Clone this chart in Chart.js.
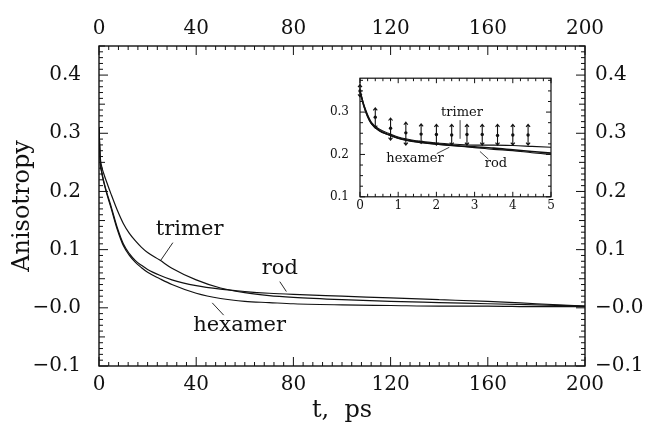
<!DOCTYPE html>
<html><head><meta charset="utf-8">
<script src="https://cdn.jsdelivr.net/npm/chart.js@4.4.0/dist/chart.umd.min.js"></script>
<style>
html,body{margin:0;padding:0;background:#fff;}
#wrap{position:relative;width:645px;height:429px;overflow:hidden;}
#main{position:absolute;left:0;top:0;width:645px;height:429px;}
#inset{position:absolute;left:320px;top:60px;width:240px;height:155px;}
</style></head><body>
<div id="wrap"><canvas id="main" width="645" height="429"></canvas><canvas id="inset" width="240" height="155"></canvas></div>
<script>
// ---- main panel data (t in ps, anisotropy) ----
const tMain = [0, 0.5, 1, 2, 3, 5, 7.5, 10, 12.5, 15, 17.5, 20, 25, 30, 40, 50, 60, 70, 80, 100, 120, 140, 160, 180, 200];
const trimerMain  = [0.31, 0.26, 0.245, 0.23, 0.218, 0.195, 0.168, 0.145, 0.128, 0.115, 0.104, 0.095, 0.082, 0.068, 0.048, 0.034, 0.026, 0.021, 0.018, 0.014, 0.011, 0.009, 0.007, 0.005, 0.003];
const hexamerMain = [0.31, 0.25, 0.235, 0.215, 0.199, 0.171, 0.135, 0.107, 0.09, 0.078, 0.069, 0.061, 0.05, 0.04, 0.025, 0.016, 0.011, 0.009, 0.007, 0.005, 0.004, 0.003, 0.003, 0.002, 0.002];
const rodMain     = [0.31, 0.25, 0.236, 0.217, 0.201, 0.174, 0.138, 0.11, 0.093, 0.081, 0.073, 0.066, 0.056, 0.048, 0.038, 0.032, 0.028, 0.025, 0.023, 0.02, 0.017, 0.014, 0.011, 0.007, 0.003];
const xTicksMain = [0, 40, 80, 120, 160, 200];
const yTicksMain = [-0.1, 0, 0.1, 0.2, 0.3, 0.4];

// ---- inset data (0-5 ps) ----
const tInset = [0, 0.1, 0.2, 0.3, 0.5, 0.75, 1, 1.5, 2, 2.5, 3, 3.5, 4, 4.5, 5];
const trimerInset  = [0.350, 0.318, 0.294, 0.276, 0.260, 0.250, 0.241, 0.232, 0.227, 0.224, 0.222, 0.222, 0.221, 0.219, 0.217];
const hexamerInset = [0.350, 0.315, 0.290, 0.273, 0.257, 0.247, 0.239, 0.230, 0.225, 0.221, 0.218, 0.215, 0.211, 0.207, 0.203];
const rodInset     = [0.350, 0.314, 0.289, 0.272, 0.256, 0.246, 0.238, 0.229, 0.224, 0.220, 0.216, 0.212, 0.209, 0.204, 0.200];
const errT   = [0, 0.4, 0.8, 1.2, 1.6, 2.0, 2.4, 2.8, 3.2, 3.6, 4.0, 4.4];
const errMid = [0.350, 0.288, 0.262, 0.251, 0.248, 0.247, 0.246, 0.247, 0.247, 0.245, 0.246, 0.246];
const errLo  = [0.336, 0.262, 0.234, 0.222, 0.226, 0.222, 0.222, 0.222, 0.222, 0.222, 0.222, 0.222];
const errHi  = [0.365, 0.310, 0.286, 0.276, 0.272, 0.271, 0.271, 0.271, 0.271, 0.271, 0.271, 0.271];
const xTicksInset = [0, 1, 2, 3, 4, 5];
const yTicksInset = [0.1, 0.2, 0.3];

const SERIF = '"DejaVu Serif", "Liberation Serif", serif';
const INK = '#111';

function pts(xs, ys) { return xs.map((x, i) => ({x: x, y: ys[i]})); }
function lineDs(label, xs, ys, w) {
  return {label, data: pts(xs, ys), borderColor: INK, borderWidth: w, pointRadius: 0,
          fill: false, cubicInterpolationMode: 'monotone'};
}

// frame with inward ticks, drawn from the chart's own scales
const framePlugin = {
  id: 'frame',
  afterDraw(chart, args, o) {
    const {ctx, chartArea: a, scales} = chart;
    const xs = scales.x, ys = scales.y;
    ctx.save();
    ctx.strokeStyle = INK;
    ctx.lineWidth = o.lw;
    ctx.strokeRect(a.left, a.top, a.right - a.left, a.bottom - a.top);
    ctx.lineWidth = o.tlw;
    ctx.beginPath();
    for (let k = 0; k <= o.xN; k++) {
      const px = xs.getPixelForValue(o.xMin + k * o.xStep);
      const L = (k % o.xMajor === 0) ? o.maj : o.min;
      ctx.moveTo(px, a.bottom); ctx.lineTo(px, a.bottom - L);
      ctx.moveTo(px, a.top); ctx.lineTo(px, a.top + L);
    }
    for (let k = 0; k <= o.yN; k++) {
      const py = ys.getPixelForValue(o.yMin + k * o.yStep);
      const L = (k % o.yMajor === 0) ? o.maj : ((o.yMid && k % o.yMid === 0) ? o.mid : o.min);
      ctx.moveTo(a.left, py); ctx.lineTo(a.left + L, py);
      ctx.moveTo(a.right, py); ctx.lineTo(a.right - L, py);
    }
    ctx.stroke();
    ctx.restore();
  }
};

// curve labels and leader lines, anchored in data coordinates
const notePlugin = {
  id: 'notes',
  afterDraw(chart, args, o) {
    const {ctx, scales} = chart;
    const xs = scales.x, ys = scales.y;
    ctx.save();
    ctx.fillStyle = INK; ctx.strokeStyle = INK; ctx.lineWidth = o.lw;
    ctx.font = o.font; ctx.textAlign = 'center'; ctx.textBaseline = 'middle';
    (o.texts || []).forEach(t => ctx.fillText(t.text, xs.getPixelForValue(t.x), ys.getPixelForValue(t.y)));
    ctx.beginPath();
    (o.leaders || []).forEach(l => {
      ctx.moveTo(xs.getPixelForValue(l[0]), ys.getPixelForValue(l[1]));
      ctx.lineTo(xs.getPixelForValue(l[2]), ys.getPixelForValue(l[3]));
    });
    ctx.stroke();
    ctx.restore();
  }
};

// error bars for the inset
const errPlugin = {
  id: 'errbars',
  afterDatasetsDraw(chart, args, o) {
    if (!o.on) return;
    const {ctx, scales} = chart;
    const xs = scales.x, ys = scales.y;
    ctx.save();
    ctx.strokeStyle = INK; ctx.fillStyle = INK; ctx.lineWidth = 1.1;
    errT.forEach((t, i) => {
      const x = xs.getPixelForValue(t);
      const yl = ys.getPixelForValue(errLo[i]), yh = ys.getPixelForValue(errHi[i]), yc = ys.getPixelForValue(errMid[i]);
      ctx.beginPath();
      ctx.moveTo(x, yl); ctx.lineTo(x, yh);
      ctx.moveTo(x - 2, yh + 2.5); ctx.lineTo(x, yh); ctx.lineTo(x + 2, yh + 2.5);
      ctx.moveTo(x - 2, yl - 2.5); ctx.lineTo(x, yl); ctx.lineTo(x + 2, yl - 2.5);
      ctx.stroke();
      ctx.beginPath(); ctx.arc(x, yc, 1.7, 0, Math.PI * 2); ctx.fill();
    });
    ctx.restore();
  }
};

function fmtMain(v) {
  if (Math.abs(v) < 1e-9) return '\u22120.0';
  return (v < 0 ? '\u2212' : '') + Math.abs(v).toFixed(1);
}

function axis(pos, min, max, ticks, fmt, size, pad, fontPx, title) {
  const isX = (pos === 'top' || pos === 'bottom');
  const s = {
    type: 'linear', position: pos, min, max,
    grid: {display: false, drawTicks: false}, border: {display: false},
    afterBuildTicks: sc => { sc.ticks = ticks.map(v => ({value: v})); },
    afterFit: sc => { if (isX) sc.height = size; else sc.width = size; },
    ticks: {font: {family: SERIF, size: fontPx}, color: INK, padding: pad, callback: fmt,
            maxRotation: 0, autoSkip: false}
  };
  if (title) s.title = title;
  return s;
}

Chart.defaults.animation = false;

new Chart(document.getElementById('main'), {
  type: 'line',
  data: {datasets: [
    lineDs('trimer', tMain, trimerMain, 1.2),
    lineDs('hexamer', tMain, hexamerMain, 1.2),
    lineDs('rod', tMain, rodMain, 1.2)
  ]},
  options: {
    responsive: false, devicePixelRatio: 1,
    layout: {padding: 0},
    plugins: {
      legend: {display: false}, tooltip: {enabled: false},
      frame: {lw: 1.4, tlw: 1, maj: 9, mid: 6, min: 4,
              xMin: 0, xStep: 4, xN: 50, xMajor: 10,
              yMin: -0.1, yStep: 0.01, yN: 55, yMajor: 10, yMid: 5},
      notes: {font: '21px ' + SERIF, lw: 0.9,
              texts: [{text: 'trimer', x: 37.3, y: 0.135}, {text: 'rod', x: 74.4, y: 0.067}, {text: 'hexamer', x: 57.9, y: -0.03}],
              leaders: [[30.4, 0.112, 25.3, 0.081], [74.4, 0.045, 77.1, 0.028], [51.3, -0.0126, 46.6, 0.0085]]},
      errbars: {on: false}
    },
    scales: {
      x: axis('bottom', 0, 200, xTicksMain, v => String(v), 63, 7, 20,
              {display: true, text: 't,  ps', font: {family: SERIF, size: 24}, color: INK, padding: {top: 0, bottom: 4}}),
      x2: axis('top', 0, 200, xTicksMain, v => String(v), 46, 5, 20),
      y: axis('left', -0.1, 0.45, yTicksMain, fmtMain, 99, 18, 20,
              {display: true, text: 'Anisotropy', font: {family: SERIF, size: 24}, color: INK, padding: {top: 8, bottom: 0}}),
      y2: axis('right', -0.1, 0.45, yTicksMain, fmtMain, 60, 10, 20)
    }
  },
  plugins: [framePlugin, notePlugin, errPlugin]
});

new Chart(document.getElementById('inset'), {
  type: 'line',
  data: {datasets: [
    lineDs('trimer', tInset, trimerInset, 1.1),
    lineDs('hexamer', tInset, hexamerInset, 1.6),
    lineDs('rod', tInset, rodInset, 1.1)
  ]},
  options: {
    responsive: false, devicePixelRatio: 1,
    layout: {padding: 0},
    plugins: {
      legend: {display: false}, tooltip: {enabled: false},
      frame: {lw: 1.2, tlw: 1, maj: 5, mid: 4, min: 3,
              xMin: 0, xStep: 0.2, xN: 25, xMajor: 5,
              yMin: 0.1, yStep: 0.025, yN: 11, yMajor: 4, yMid: 0},
      notes: {font: '13px ' + SERIF, lw: 0.8,
              texts: [{text: 'trimer', x: 2.67, y: 0.298}, {text: 'hexamer', x: 1.44, y: 0.189}, {text: 'rod', x: 3.56, y: 0.178}],
              leaders: [[2.62, 0.281, 2.62, 0.237], [2.01, 0.202, 2.34, 0.217], [3.36, 0.189, 3.14, 0.207]]},
      errbars: {on: true}
    },
    scales: {
      x: axis('bottom', 0, 5, xTicksInset, v => String(v), 18, 2, 12),
      x2: axis('top', 0, 5, xTicksInset, () => '', 10, 0, 1),
      y: axis('left', 0.1, 0.38, yTicksInset, v => v.toFixed(1), 40, 11, 12),
      y2: axis('right', 0.1, 0.38, yTicksInset, () => '', 9, 0, 1)
    }
  },
  plugins: [framePlugin, notePlugin, errPlugin]
});
</script>
</body></html>
